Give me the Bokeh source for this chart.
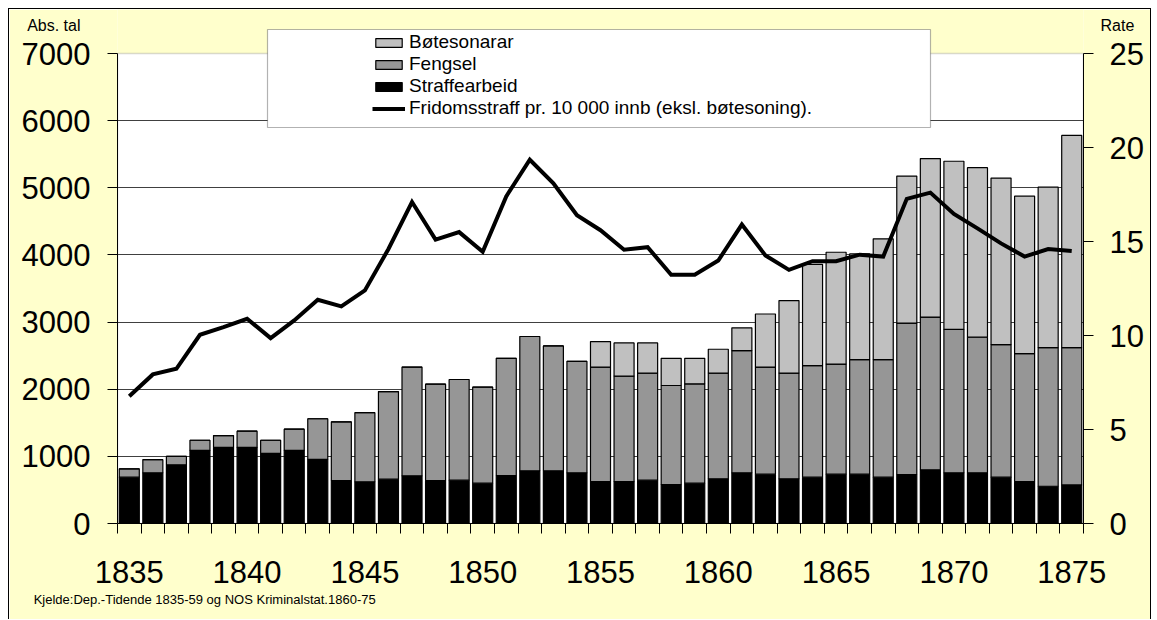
from bokeh.plotting import figure
from bokeh.models import (ColumnDataSource, Range1d, LinearAxis, FixedTicker, Legend,
                          LegendItem, BoxAnnotation)
from bokeh.embed import file_html
from bokeh.resources import INLINE

years = list(range(1835, 1876))
straffearbeid = [690, 755, 875, 1090, 1135, 1135, 1045, 1090, 955, 640,
                 620, 660, 710, 640, 645, 600, 715, 785, 785, 755,
                 625, 625, 645, 580, 600, 665, 755, 735, 665, 690,
                 735, 735, 690, 730, 800, 755, 755, 690, 625, 555, 575]
fengsel = [125, 195, 125, 150, 175, 240, 195, 315, 605, 875,
           1030, 1305, 1620, 1435, 1500, 1430, 1745, 2000, 1860, 1660,
           1705, 1570, 1595, 1475, 1480, 1575, 1820, 1595, 1575, 1660,
           1640, 1705, 1750, 2255, 2275, 2135, 2020, 1975, 1905, 2065, 2045]
botesonarar = [0, 0, 0, 0, 0, 0, 0, 0, 0, 0,
               0, 0, 0, 0, 0, 0, 0, 0, 0, 0,
               380, 495, 450, 405, 380, 355, 340, 790, 1080, 1510,
               1665, 1575, 1800, 2190, 2360, 2505, 2525, 2480, 2345, 2390, 3160]
rate = [6.77, 7.93, 8.23, 10.04, 10.44, 10.89, 9.86, 10.8, 11.9, 11.55,
        12.4, 14.6, 17.1, 15.1, 15.5, 14.45, 17.4, 19.35, 18.1, 16.4,
        15.6, 14.56, 14.7, 13.23, 13.23, 13.99, 15.9, 14.26, 13.49, 13.95,
        13.95, 14.3, 14.2, 17.27, 17.6, 16.47, 15.7, 14.9, 14.2, 14.6, 14.5]

left_ticks = [0, 1000, 2000, 3000, 4000, 5000, 6000, 7000]
right_ticks = [0, 5, 10, 15, 20, 25]
year_labels = [1835, 1840, 1845, 1850, 1855, 1860, 1865, 1870, 1875]

labels = ["Bøtesonarar", "Fengsel", "Straffearbeid",
          "Fridomsstraff pr. 10 000 innb (eksl. bøtesoning)."]
left_title = "Abs. tal"
right_title = "Rate"
source_note = "Kjelde:Dep.-Tidende 1835-59 og NOS Kriminalstat.1860-75"

FONT = "Liberation Sans"

# ---- layout (page pixels) ----
W, H = 1143, 611            # canvas size
CX, CY = 9, 9               # canvas origin on page (8px margin + 1px border)
F_LEFT, F_RIGHT = 117, 1083  # plot area
Y0_PX, Y7000_PX = 523, 53
F_TOP = CY                  # frame reaches canvas top (yellow band drawn inside)

px_per_unit = (Y0_PX - Y7000_PX) / 7000.0
y_max = (Y0_PX - F_TOP) / px_per_unit
rate_max = y_max * 25.0 / 7000.0
x0, x1 = years[0] - 0.5, years[-1] + 0.5

src = ColumnDataSource(dict(year=years, straff=straffearbeid, fengsel=fengsel,
                            bote=botesonarar, rate=rate))

p = figure(width=W, height=H, output_backend="svg", toolbar_location=None,
           x_range=Range1d(x0, x1), y_range=Range1d(0, y_max),
           min_border_left=F_LEFT - CX, min_border_right=CX + W - F_RIGHT,
           min_border_top=0, min_border_bottom=CY + H - Y0_PX)
p.styles = {"margin-left": "8px", "margin-top": "8px",
            "border-left": "1px solid black", "border-top": "1px solid black",
            "border-right": "1px solid black"}
p.border_fill_color = "#FFFFCC"
p.background_fill_color = "#FFFFCC"
p.outline_line_color = None
p.extra_y_ranges = {"rate": Range1d(0, rate_max)}

# white plot area
p.add_layout(BoxAnnotation(left=x0, right=x1, bottom=0, top=7000,
                           fill_color="white", fill_alpha=1,
                           line_color="#808080", line_width=1.5, level="image"))

r = p.vbar_stack(["straff", "fengsel", "bote"], x="year", width=0.85,
                 color=["#000000", "#969696", "#C0C0C0"], line_color="#000000",
                 line_width=1.2, source=src)
ln = p.line("year", "rate", y_range_name="rate", source=src, line_color="black",
            line_width=4, line_join="miter")

# x axis
xa = p.xaxis[0]
xa.ticker = FixedTicker(ticks=year_labels,
                        minor_ticks=[y + 0.5 for y in range(years[0] - 1, years[-1] + 1)])
xa.major_tick_out = 0
xa.major_tick_in = 0
xa.minor_tick_out = 10
xa.minor_tick_in = 0
xa.minor_tick_line_color = "black"
xa.axis_line_color = "black"
xa.major_label_text_font = FONT
xa.major_label_text_font_size = "31px"
xa.major_label_text_color = "black"
xa.major_label_standoff = 27

# left axis
ya = p.yaxis[0]
ya.ticker = FixedTicker(ticks=left_ticks)
ya.bounds = (0, 7000)
ya.major_tick_out = 10
ya.major_tick_in = 0
ya.minor_tick_out = 0
ya.minor_tick_in = 0
ya.axis_line_color = "black"
ya.major_tick_line_color = "black"
ya.major_label_text_font = FONT
ya.major_label_text_font_size = "31px"
ya.major_label_text_color = "black"
ya.major_label_standoff = 17

# right axis
ra = LinearAxis(y_range_name="rate", ticker=FixedTicker(ticks=right_ticks),
                bounds=(0, 25))
ra.major_tick_out = 10
ra.major_tick_in = 0
ra.minor_tick_out = 0
ra.minor_tick_in = 0
ra.axis_line_color = "black"
ra.major_tick_line_color = "black"
ra.major_label_text_font = FONT
ra.major_label_text_font_size = "31px"
ra.major_label_text_color = "black"
ra.major_label_standoff = 16
p.add_layout(ra, "right")


def text_axis(axis):
    axis.major_tick_out = 0
    axis.major_tick_in = 0
    axis.minor_tick_out = 0
    axis.minor_tick_in = 0
    axis.axis_line_color = None
    axis.major_label_text_font = FONT
    axis.major_label_text_color = "black"
    return axis


# axis titles drawn as tick labels of extra (outer) axes pulled back by a negative standoff
abs_y = 7410
la = text_axis(LinearAxis(ticker=FixedTicker(ticks=[abs_y]),
                          major_label_overrides={abs_y: left_title}))
la.major_label_text_font_size = "16px"
la.major_label_standoff = -62
p.add_layout(la, "left")

rate_y = 26.5
rl = text_axis(LinearAxis(y_range_name="rate", ticker=FixedTicker(ticks=[rate_y]),
                          major_label_overrides={rate_y: right_title}))
rl.major_label_text_font_size = "16px"
rl.major_label_standoff = -46
p.add_layout(rl, "right")

src_x = 1838.2
sa = text_axis(LinearAxis(ticker=FixedTicker(ticks=[src_x]),
                          major_label_overrides={src_x: source_note}))
sa.major_label_text_font_size = "13px"
sa.major_label_standoff = 6
p.add_layout(sa, "below")

p.xgrid.visible = False
p.ygrid.ticker = FixedTicker(ticks=left_ticks[1:-1])
p.ygrid.grid_line_color = "#404040"
p.ygrid.grid_line_width = 1

# legend box
box = BoxAnnotation(left=267 - F_LEFT, right=930 - F_LEFT,
                    top=Y0_PX - 29, bottom=Y0_PX - 127,
                    left_units="screen", right_units="screen",
                    top_units="screen", bottom_units="screen",
                    fill_color="white", fill_alpha=1, line_color="black",
                    line_width=1.2, level="annotation")
p.add_layout(box)

legend = Legend(items=[LegendItem(label=labels[0], renderers=[r[2]]),
                       LegendItem(label=labels[1], renderers=[r[1]]),
                       LegendItem(label=labels[2], renderers=[r[0]]),
                       LegendItem(label=labels[3], renderers=[ln])],
                location=(372 - F_LEFT, Y0_PX - 119), orientation="vertical")
legend.padding = 0
legend.margin = 0
legend.border_line_alpha = 0
legend.background_fill_alpha = 0
legend.label_text_font = FONT
legend.label_text_font_size = "19px"
legend.label_text_color = "black"
legend.label_height = 19
legend.glyph_height = 11
legend.glyph_width = 33
legend.spacing = 0
legend.label_standoff = 4
legend.level = "overlay"
p.add_layout(legend)

open("out.html", "w").write(file_html(p, INLINE))
